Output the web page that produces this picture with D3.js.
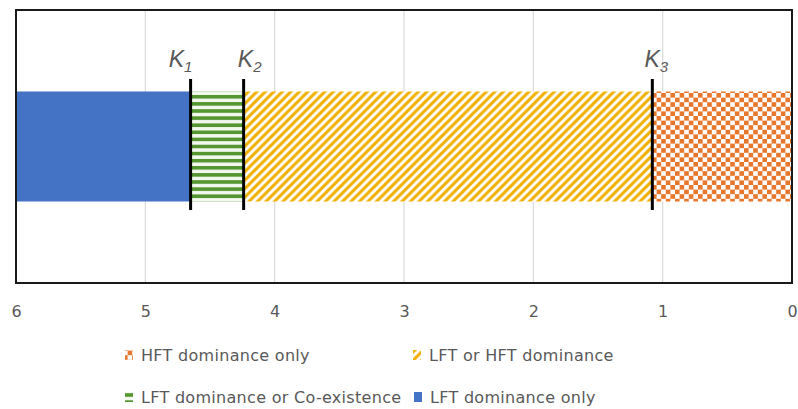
<!DOCTYPE html>
<html>
<head>
<meta charset="utf-8">
<script src="https://cdn.jsdelivr.net/npm/d3@7/dist/d3.min.js"></script>
<style>
  html, body { margin: 0; padding: 0; background: #ffffff; }
  svg { display: block; }
</style>
</head>
<body>
<svg id="chart" width="798" height="409"></svg>
<script>
// ---- data ----
const categories = ["HFT dominance only", "LFT or HFT dominance", "LFT dominance or Co-existence", "LFT dominance only"];
const segmentLengths = [1.08, 3.16, 0.41, 1.35];   // stacked from 0 upward (axis reversed)
const thresholdNames = ["K1", "K2", "K3"];
const thresholdValues = [4.65, 4.24, 1.08];
const tickValues = [6, 5, 4, 3, 2, 1, 0];
const legendOrder = ["HFT dominance only", "LFT or HFT dominance", "LFT dominance or Co-existence", "LFT dominance only"];

// ---- styles ----
const colors = {
  "HFT dominance only": "#e8772e",
  "LFT or HFT dominance": "#f0b000",
  "LFT dominance or Co-existence": "#559631",
  "LFT dominance only": "#4472c4"
};
const patternId = {
  "HFT dominance only": "pat-check",
  "LFT or HFT dominance": "pat-diag",
  "LFT dominance or Co-existence": "pat-horiz",
  "LFT dominance only": null
};
const textColor = "#595959";
const font = "'DejaVu Sans', sans-serif";

const svg = d3.select("#chart");
const plot = { left: 16, right: 792, top: 10, bottom: 283 };

// ---- patterns ----
const defs = svg.append("defs");
// checkerboard
const pc = defs.append("pattern").attr("id", "pat-check").attr("patternUnits", "userSpaceOnUse")
  .attr("width", 9.2).attr("height", 9.2).attr("x", 652).attr("y", 93);
pc.append("rect").attr("width", 9.2).attr("height", 9.2).attr("fill", "#fff");
pc.append("rect").attr("x", 0).attr("y", 0).attr("width", 4.6).attr("height", 4.6).attr("fill", colors["HFT dominance only"]);
pc.append("rect").attr("x", 4.6).attr("y", 4.6).attr("width", 4.6).attr("height", 4.6).attr("fill", colors["HFT dominance only"]);
// diagonal "/"
const pd = defs.append("pattern").attr("id", "pat-diag").attr("patternUnits", "userSpaceOnUse")
  .attr("width", 8.5).attr("height", 8.5);
pd.append("rect").attr("width", 8.5).attr("height", 8.5).attr("fill", "#fff");
pd.append("path").attr("d", "M-2,2 L2,-2 M0,8.5 L8.5,0 M6.5,10.5 L10.5,6.5")
  .attr("stroke", colors["LFT or HFT dominance"]).attr("stroke-width", 3.1);
// horizontal stripes
const ph = defs.append("pattern").attr("id", "pat-horiz").attr("patternUnits", "userSpaceOnUse")
  .attr("width", 8).attr("height", 7.1).attr("y", 95);
ph.append("rect").attr("width", 8).attr("height", 7.1).attr("fill", "#f3f8ef");
ph.append("rect").attr("y", 0).attr("width", 8).attr("height", 3.6).attr("fill", colors["LFT dominance or Co-existence"]);

function fillFor(name) {
  return patternId[name] ? `url(#${patternId[name]})` : colors[name];
}

// ---- scales ----
const x = d3.scaleLinear().domain([6, 0]).range([plot.left, plot.right]);
const y = d3.scaleBand().domain(["regime"]).range([plot.top, plot.bottom]).padding(0.4256);

// ---- gridlines ----
svg.append("g").selectAll("line")
  .data(tickValues.filter(v => v !== 0 && v !== 6))
  .join("line")
  .attr("x1", d => x(d)).attr("x2", d => x(d))
  .attr("y1", plot.top).attr("y2", plot.bottom)
  .attr("stroke", "#d9d9d9").attr("stroke-width", 1.2);

// ---- stacked segments ----
let acc = 0;
const segs = categories.map((c, i) => {
  const s = { name: c, from: acc, to: acc + segmentLengths[i] };
  acc += segmentLengths[i];
  return s;
});
svg.append("g").selectAll("rect")
  .data(segs)
  .join("rect")
  .attr("x", d => x(d.to))
  .attr("width", d => x(d.from) - x(d.to))
  .attr("y", y("regime"))
  .attr("height", y.bandwidth())
  .attr("fill", d => fillFor(d.name));

// ---- plot border ----
svg.append("rect")
  .attr("x", plot.left).attr("y", plot.top)
  .attr("width", plot.right - plot.left).attr("height", plot.bottom - plot.top)
  .attr("fill", "none").attr("stroke", "#1a1a1a").attr("stroke-width", 2);

// ---- axis ----
const axis = d3.axisBottom(x).tickValues(tickValues).tickSize(0).tickPadding(0).tickFormat(d3.format("d"));
const ag = svg.append("g").attr("transform", `translate(0,${plot.bottom})`).call(axis);
ag.select(".domain").remove();
ag.selectAll("text")
  .attr("dy", 0).attr("y", 34)
  .attr("fill", textColor)
  .style("font-family", font).style("font-size", "16px");

// ---- threshold lines ----
const lineTop = 79, lineBottom = 210;
const labelOffsets = [-10, 6, 4];
const kg = svg.append("g");
kg.selectAll("line")
  .data(thresholdValues)
  .join("line")
  .attr("x1", d => x(d)).attr("x2", d => x(d))
  .attr("y1", lineTop).attr("y2", lineBottom)
  .attr("stroke", "#000").attr("stroke-width", 3);

const lbl = kg.selectAll("text")
  .data(thresholdNames.map((n, i) => ({ n, v: thresholdValues[i], off: labelOffsets[i] })))
  .join("text")
  .attr("x", d => x(d.v) + d.off)
  .attr("y", 67)
  .attr("text-anchor", "middle")
  .attr("fill", textColor)
  .style("font-family", "'Liberation Sans', Arial, sans-serif")
  .style("font-style", "italic")
  .style("font-size", "23px");
lbl.append("tspan").text(d => d.n[0]);
lbl.append("tspan").attr("dy", 5).style("font-size", "15px").text(d => d.n.slice(1));

// ---- legend ----
const legendPos = [
  { x: 125, y: 355 }, { x: 413, y: 355 },
  { x: 125, y: 397 }, { x: 414, y: 397 }
];
const lg = svg.append("g").selectAll("g")
  .data(legendOrder.map((n, i) => ({ n, p: legendPos[i] })))
  .join("g");
lg.append("rect")
  .attr("x", d => d.p.x).attr("y", d => d.p.y - 5)
  .attr("width", 8).attr("height", 10)
  .attr("fill", d => fillFor(d.n));
lg.append("text")
  .attr("x", d => d.p.x + 16).attr("y", d => d.p.y + 6)
  .attr("fill", textColor)
  .style("font-family", font).style("font-size", "16px")
  .style("letter-spacing", "0.3px")
  .text(d => d.n);
</script>
</body>
</html>
